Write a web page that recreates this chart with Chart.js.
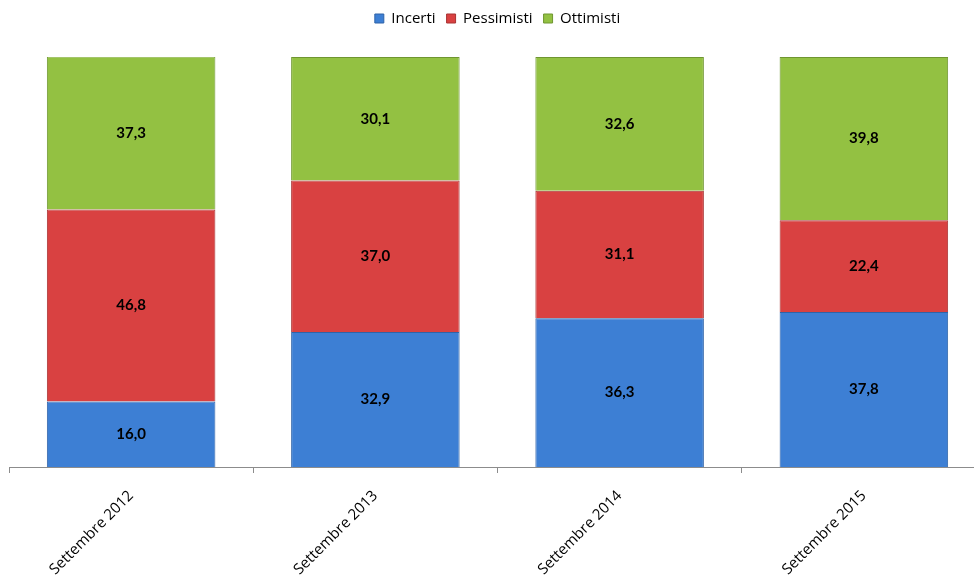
<!DOCTYPE html>
<html>
<head>
<meta charset="utf-8">
<script src="https://cdn.jsdelivr.net/npm/chart.js@4"></script>
<style>
  html, body { margin: 0; padding: 0; background: #fff; overflow: hidden; }
  #wrap { width: 986px; height: 580px; position: relative; }
</style>
</head>
<body>
<div id="wrap"><canvas id="chart"></canvas></div>
<script>
const categories = ['Settembre 2012', 'Settembre 2013', 'Settembre 2014', 'Settembre 2015'];
const incerti = [16.0, 32.9, 36.3, 37.8];
const pessimisti = [46.8, 37.0, 31.1, 22.4];
const ottimisti = [37.3, 30.1, 32.6, 39.8];

// draws the value inside each segment, italian decimal comma
const valueLabels = {
  id: 'valueLabels',
  afterDatasetsDraw(chart) {
    const ctx = chart.ctx;
    ctx.save();
    ctx.font = 'bold 15px Lato';
    ctx.fillStyle = '#000';
    ctx.textAlign = 'center';
    ctx.textBaseline = 'middle';
    chart.data.datasets.forEach((ds, i) => {
      chart.getDatasetMeta(i).data.forEach((bar, j) => {
        const txt = ds.data[j].toFixed(1).replace('.', ',');
        ctx.fillText(txt, bar.x, (bar.y + bar.base) / 2);
      });
    });
    ctx.restore();
  }
};

// legend sits a bit higher than the plot top, add some room below it
const legendGap = {
  id: 'legendGap',
  beforeInit(chart) {
    const fit = chart.legend.fit;
    chart.legend.fit = function () {
      fit.bind(this)();
      this.height += 21;
    };
  }
};

new Chart(document.getElementById('chart'), {
  type: 'bar',
  data: {
    labels: categories,
    datasets: [
      { label: 'Incerti', data: incerti, backgroundColor: '#3d7fd4', borderColor: '#2f63a8', borderWidth: 1 },
      { label: 'Pessimisti', data: pessimisti, backgroundColor: '#d94141', borderColor: '#a83232', borderWidth: 1 },
      { label: 'Ottimisti', data: ottimisti, backgroundColor: '#93c142', borderColor: '#6f9630', borderWidth: 1 }
    ]
  },
  options: {
    responsive: true,
    maintainAspectRatio: false,
    animation: false,
    layout: { padding: { left: 9, right: 0, top: 0, bottom: 0 } },
    datasets: { bar: { categoryPercentage: 1, barPercentage: 0.69 } },
    plugins: {
      tooltip: { enabled: false },
      legend: {
        position: 'top',
        labels: { boxWidth: 9, boxHeight: 9, padding: 11, color: '#000', font: { family: 'Open Sans', size: 15 } }
      }
    },
    scales: {
      x: {
        stacked: true,
        offset: true,
        grid: { offset: true, drawOnChartArea: false, drawTicks: true, tickLength: 6, color: '#8c8c8c' },
        border: { color: '#8c8c8c', width: 1 },
        ticks: { minRotation: 45, maxRotation: 45, padding: 14, color: '#000', font: { family: 'Open Sans', size: 15 } },
        afterFit(scale) { scale.height = 113; }
      },
      y: {
        stacked: true,
        display: false,
        min: 0,
        max: 100
      }
    }
  },
  plugins: [valueLabels, legendGap]
});
</script>
</body>
</html>
